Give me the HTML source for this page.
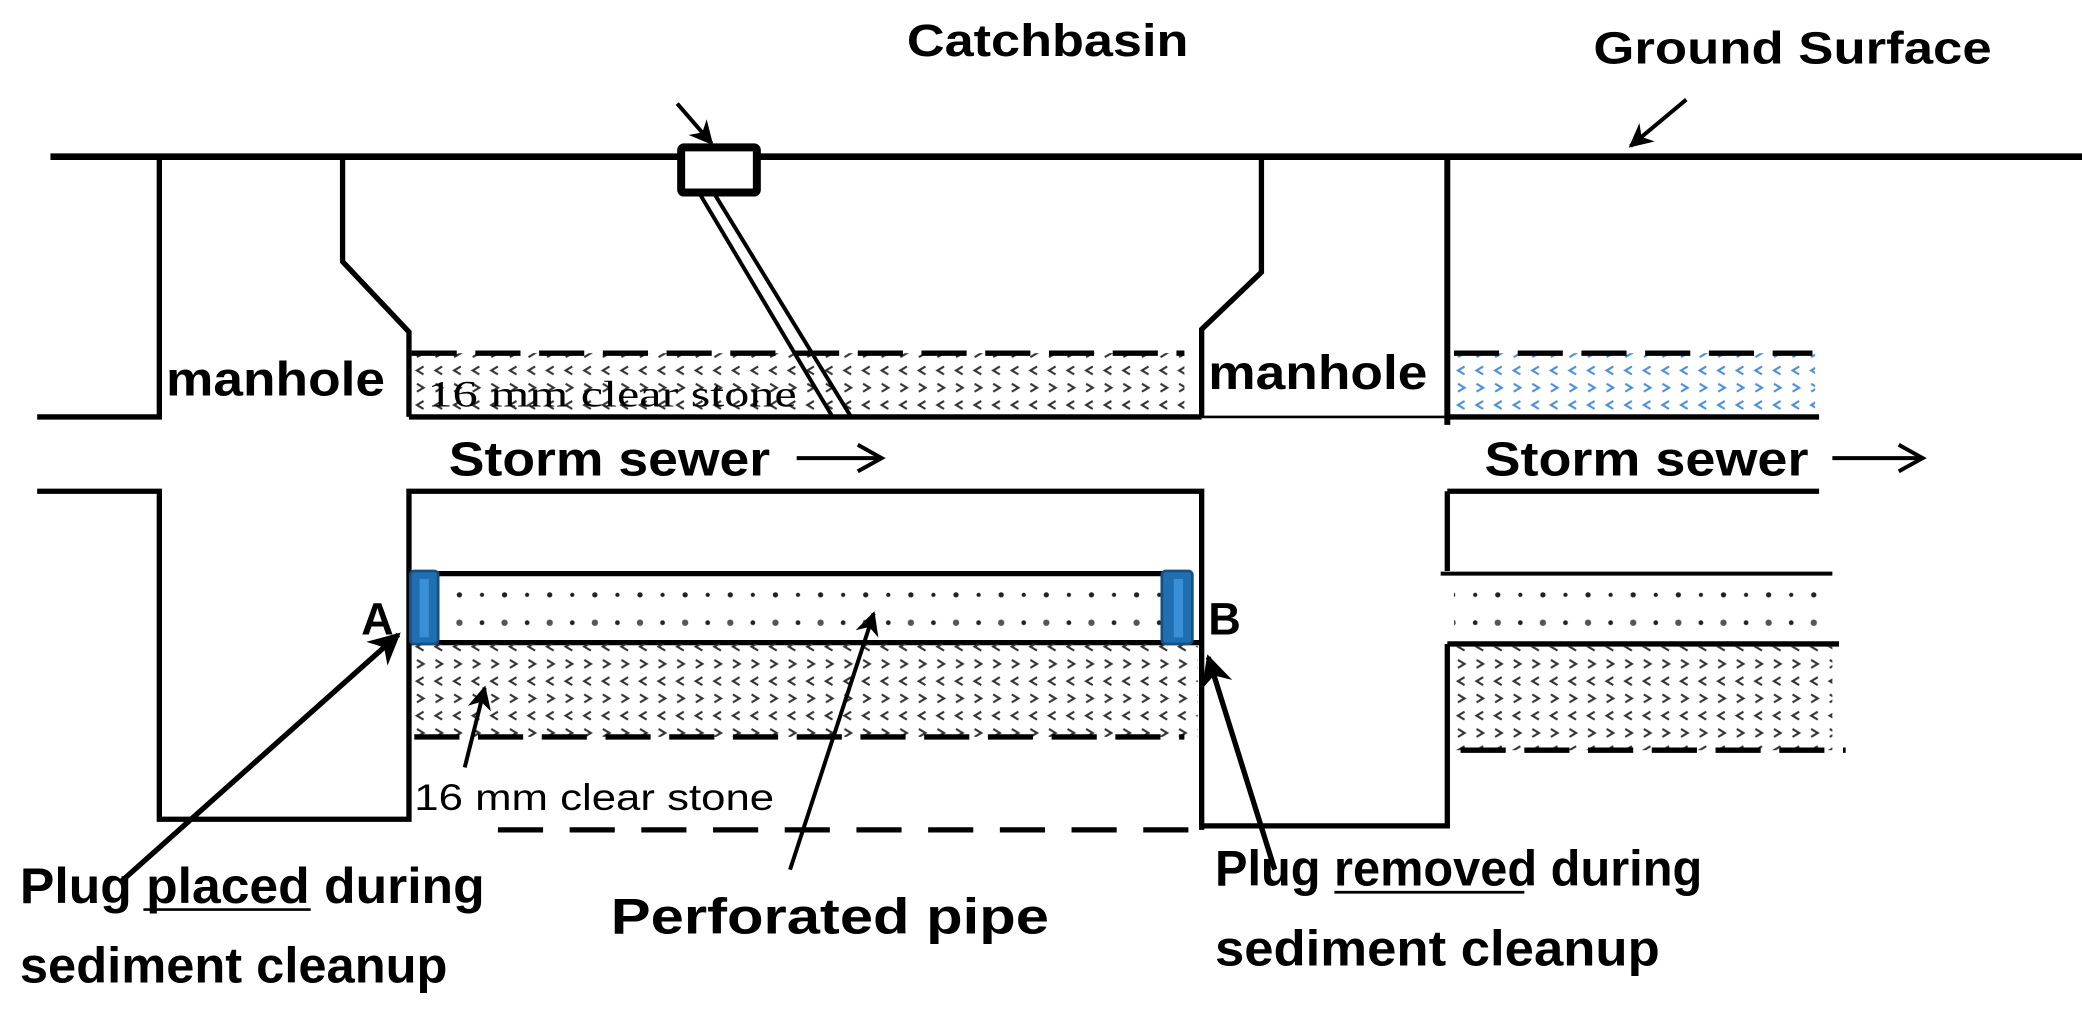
<!DOCTYPE html>
<html><head><style>html,body{margin:0;padding:0;background:#fff}svg{display:block}</style></head><body>
<svg width="2082" height="1033" viewBox="0 0 1568 778" preserveAspectRatio="none" xmlns="http://www.w3.org/2000/svg" font-family="Liberation Sans, sans-serif">
<defs>
<pattern id="h" width="28" height="26" patternUnits="userSpaceOnUse">
<path d="M6 3 l5 3 -5 3 M20 3 l5 3 -5 3 M11 16 l-5 3 5 3 M25 16 l-5 3 5 3" stroke="#333" stroke-width="1.6" fill="none"/>
</pattern>
<pattern id="hb" width="28" height="26" patternUnits="userSpaceOnUse">
<path d="M6 3 l5 3 -5 3 M20 3 l5 3 -5 3 M11 16 l-5 3 5 3 M25 16 l-5 3 5 3" stroke="#4a90d9" stroke-width="1.6" fill="none"/>
</pattern>
<pattern id="d" x="0" y="432" width="34" height="52" patternUnits="userSpaceOnUse">
<circle cx="6" cy="16" r="2" fill="#222"/><circle cx="23" cy="16" r="1.6" fill="#222"/>
<circle cx="6" cy="37" r="2.4" fill="#555"/><circle cx="23" cy="37" r="1.8" fill="#222"/>
</pattern>
<marker id="a" viewBox="0 0 10 10" refX="9" refY="5" markerWidth="6" markerHeight="6" orient="auto"><path d="M0 0 L10 5 L0 10 L3 5z" fill="#000"/></marker>
</defs>
<g fill="none" stroke="#000" stroke-width="4">
<path d="M38 118 H2082" stroke-width="5"/>
<path d="M28 314 H120 V118"/>
<path d="M258 118 V197 L308 250 V314"/>
<rect x="310" y="266" width="582" height="48" fill="url(#h)" stroke="none"/>
<path d="M310 266 H892" stroke-dasharray="34 14"/>
<path d="M308 314 H905"/>
<rect x="513" y="111" width="57" height="34" fill="#fff" stroke-width="6" rx="2"/>
<path d="M527 146 L627 314 M538 146 L641 314" stroke-width="3"/>
<path d="M510 78 L536 108" stroke-width="3" marker-end="url(#a)"/>
<path d="M950 118 V205 L905 248 V314"/>
<path d="M1090 118 V320" stroke-width="4.5"/>
<path d="M905 314 H1090" stroke-width="2"/>
<rect x="1095" y="266" width="272" height="48" fill="url(#hb)" stroke="none"/>
<path d="M1095 266 H1365" stroke-dasharray="34 14"/>
<path d="M1090 314 H1370"/>
<path d="M28 370 H120 V617 H308 V370 H905 V625"/>
<rect x="310" y="432" width="592" height="52" fill="url(#d)" stroke="none"/>
<path d="M330 432 H880"/>
<path d="M308 484 H905"/>
<rect x="310" y="485" width="592" height="70" fill="url(#h)" stroke="none"/>
<path d="M312 555 H892" stroke-dasharray="34 14"/>
<path d="M375 625 H905" stroke-dasharray="34 20"/>
<path d="M905 622 H1090 V485" />
<path d="M1090 370 H1370 M1090 370 V430"/>
<rect x="1095" y="434" width="285" height="50" fill="url(#d)" stroke="none"/>
<path d="M1085 432 H1380" stroke-width="3"/>
<path d="M1090 485 H1385"/>
<rect x="1095" y="487" width="285" height="78" fill="url(#h)" stroke="none"/>
<path d="M1100 565 H1390" stroke-dasharray="34 14"/>
<path d="M90 665 L300 478" stroke-width="4" marker-end="url(#a)"/>
<path d="M595 655 L658 462" stroke-width="3" marker-end="url(#a)"/>
<path d="M350 578 L365 518" stroke-width="3" marker-end="url(#a)"/>
<path d="M960 655 L910 495" stroke-width="4" marker-end="url(#a)"/>
<path d="M1270 75 L1228 110" stroke-width="3" marker-end="url(#a)"/>
<path d="M600 345 H662 M1380 345 H1445" stroke-width="3"/>
<path d="M646 335 L664 345 L646 355 M1430 335 L1448 345 L1430 355" stroke-width="3"/>
</g>
<rect x="309" y="430" width="21" height="55" rx="3" fill="#1f6fb2" stroke="#164f80" stroke-width="2"/>
<rect x="316" y="436" width="7" height="44" fill="#3a8fd6"/>
<rect x="875" y="430" width="23" height="55" rx="3" fill="#1f6fb2" stroke="#164f80" stroke-width="2"/>
<rect x="884" y="436" width="7" height="44" fill="#3a8fd6"/>
<g font-weight="bold" fill="#000">
<text x="683" y="42" font-size="34" textLength="212" lengthAdjust="spacingAndGlyphs">Catchbasin</text>
<text x="1200" y="48" font-size="34" textLength="300" lengthAdjust="spacingAndGlyphs">Ground Surface</text>
<text x="125" y="298" font-size="36" textLength="165" lengthAdjust="spacingAndGlyphs">manhole</text>
<text x="910" y="293" font-size="36" textLength="165" lengthAdjust="spacingAndGlyphs">manhole</text>
<text x="338" y="358" font-size="36" textLength="242" lengthAdjust="spacingAndGlyphs">Storm sewer</text>
<text x="1118" y="358" font-size="36" textLength="244" lengthAdjust="spacingAndGlyphs">Storm sewer</text>
<text x="272" y="478" font-size="34">A</text>
<text x="910" y="478" font-size="34">B</text>
<text x="15" y="680" font-size="38" textLength="350" lengthAdjust="spacingAndGlyphs">Plug placed during</text>
<text x="15" y="740" font-size="38" textLength="322" lengthAdjust="spacingAndGlyphs">sediment cleanup</text>
<text x="460" y="703" font-size="38" textLength="330" lengthAdjust="spacingAndGlyphs">Perforated pipe</text>
<text x="915" y="667" font-size="38" textLength="367" lengthAdjust="spacingAndGlyphs">Plug removed during</text>
<text x="915" y="727" font-size="38" textLength="335" lengthAdjust="spacingAndGlyphs">sediment cleanup</text>
</g>
<path d="M108 685 H234 M1005 672 H1148" stroke="#000" stroke-width="2"/>
<text x="322" y="306" font-size="28" textLength="278" lengthAdjust="spacingAndGlyphs" font-family="Liberation Serif, serif">16 mm clear stone</text>
<text x="312" y="610" font-size="28" textLength="271" lengthAdjust="spacingAndGlyphs">16 mm clear stone</text>
</svg>
</body></html>
